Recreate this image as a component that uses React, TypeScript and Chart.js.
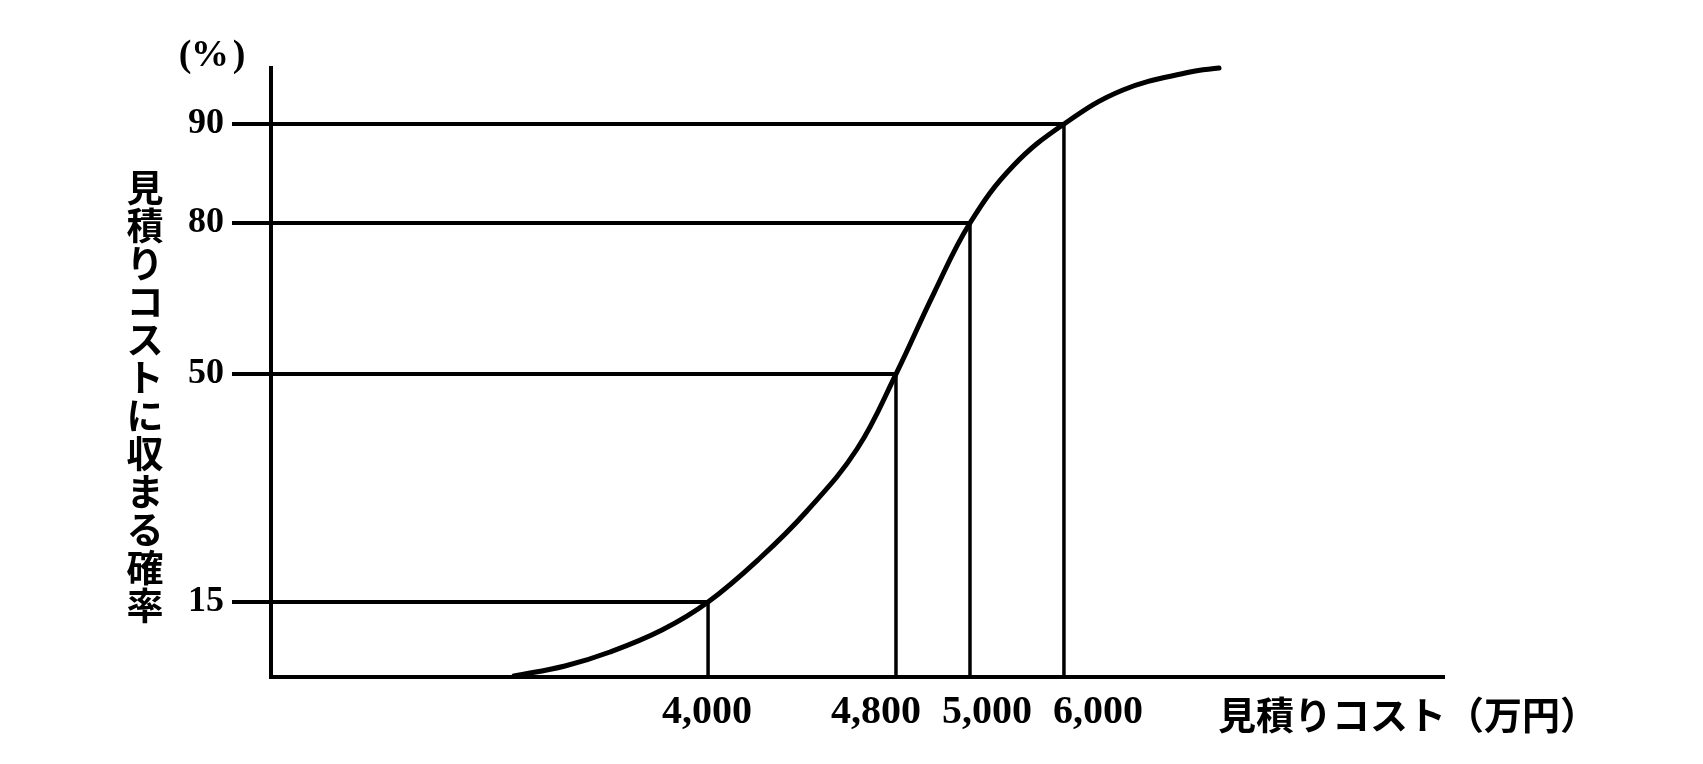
import { useEffect, useRef } from "react";
import Chart from "chart.js/auto";

// The figure is a schematic that is not drawn to scale, so both axes run
// from 0 to 100 in "as-drawn" position units; tick labels carry the real values.

// S-curve (cumulative probability of staying within the estimated cost)
const curveX = [20.72, 25.06, 28.9, 33.33, 37.26, 41.69, 45.69, 49.96, 53.28, 56.52, 59.59, 63.26, 67.6, 72.63, 78.35, 80.82];
const curveY = [0.16, 1.81, 4.11, 7.72, 12.32, 19.54, 27.26, 37.44, 49.75, 63.05, 74.55, 83.91, 90.8, 96.39, 99.34, 100];

// probability levels (%) and where they sit on the drawn y axis
const probLabels = ["15", "50", "80", "90"];
const probPos = [12.32, 49.75, 74.55, 90.8];

// where the curve reaches each level on the drawn x axis
const levelX = [37.26, 53.28, 59.59, 67.6];

// cost tick labels (万円) and where they are printed on the x axis
const costLabels = ["4,000", "4,800", "5,000", "6,000"];
const costLabelPos = [37.17, 51.58, 61.04, 70.5];

const yTitle = "見積りコストに収まる確率";
const xTitle = "見積りコスト（万円）";
const yUnit = ["(", "%", ")"];

export default function App() {
  const ref = useRef<HTMLCanvasElement | null>(null);

  useEffect(() => {
    document.body.style.margin = "0";
    const canvas = ref.current;
    if (!canvas) return;

    const hLines = probPos.map((y, i) => ({
      data: [
        { x: 0, y },
        { x: levelX[i], y },
      ],
      borderColor: "#000",
      borderWidth: 4,
      pointRadius: 0,
      tension: 0,
      clip: false as any,
    }));
    const vLines = levelX.map((x, i) => ({
      data: [
        { x, y: 0 },
        { x, y: probPos[i] },
      ],
      borderColor: "#000",
      borderWidth: 3.5,
      pointRadius: 0,
      tension: 0,
      clip: false as any,
    }));

    const textPlugin = {
      id: "texts",
      afterDraw(chart: any) {
        const { ctx, chartArea } = chart;
        ctx.save();
        ctx.fillStyle = "#000";
        // (%) unit label
        ctx.font = 'bold 38px "Liberation Serif"';
        ctx.textAlign = "center";
        ctx.textBaseline = "middle";
        const unitX = [185, 210, 239];
        yUnit.forEach((c, i) => ctx.fillText(c, unitX[i], 56));
        // vertical y-axis title, characters stacked
        ctx.font = 'bold 37px "Noto Sans CJK JP"';
        const chars = Array.from(yTitle);
        chars.forEach((c, i) => ctx.fillText(c, 145, 188 + i * 38));
        // x-axis title
        ctx.font = 'bold 38px "Noto Sans CJK JP"';
        ctx.textAlign = "left";
        ctx.fillText(xTitle, chartArea.right - 226, 715);
        ctx.restore();
      },
    };

    const chart = new Chart(canvas, {
      type: "line",
      data: {
        datasets: [
          {
            data: curveX.map((x, i) => ({ x, y: curveY[i] })),
            borderColor: "#000",
            borderWidth: 5,
            pointRadius: 0,
            tension: 0.4,
            borderCapStyle: "round",
            clip: false as any,
          },
          ...hLines,
          ...vLines,
        ] as any,
      },
      options: {
        animation: false,
        responsive: false,
        layout: { padding: { top: 68, right: 259, left: 0, bottom: 0 } },
        plugins: {
          legend: { display: false },
          tooltip: { enabled: false },
          title: { display: false },
        },
        scales: {
          x: {
            type: "linear",
            min: 0,
            max: 100,
            afterFit: (s: any) => {
              s.height = 87;
            },
            afterBuildTicks: (s: any) => {
              s.ticks = costLabelPos.map((v) => ({ value: v }));
            },
            ticks: {
              autoSkip: false,
              maxRotation: 0,
              padding: 4,
              color: "#000",
              font: { family: "Liberation Serif", size: 40, weight: "bold" },
              callback: (_v: any, i: number) => costLabels[i],
            },
            grid: { display: false },
            border: { display: true, color: "#000", width: 4 },
          },
          y: {
            type: "linear",
            min: 0,
            max: 100,
            afterFit: (s: any) => {
              s.width = 271;
            },
            afterBuildTicks: (s: any) => {
              s.ticks = probPos.map((v) => ({ value: v }));
            },
            ticks: {
              autoSkip: false,
              padding: 8,
              color: "#000",
              font: { family: "Liberation Serif", size: 36, weight: "bold" },
              callback: (_v: any, i: number) => probLabels[i],
            },
            grid: {
              display: true,
              drawOnChartArea: false,
              drawTicks: true,
              tickLength: 39,
              tickWidth: 4,
              tickColor: "#000",
              color: "#000",
              lineWidth: 4,
            },
            border: { display: true, color: "#000", width: 4 },
          },
        },
      },
      plugins: [textPlugin],
    });

    return () => chart.destroy();
  }, []);

  return (
    <div style={{ width: 1703, height: 764, background: "#fff" }}>
      <canvas ref={ref} width={1703} height={764} />
    </div>
  );
}
